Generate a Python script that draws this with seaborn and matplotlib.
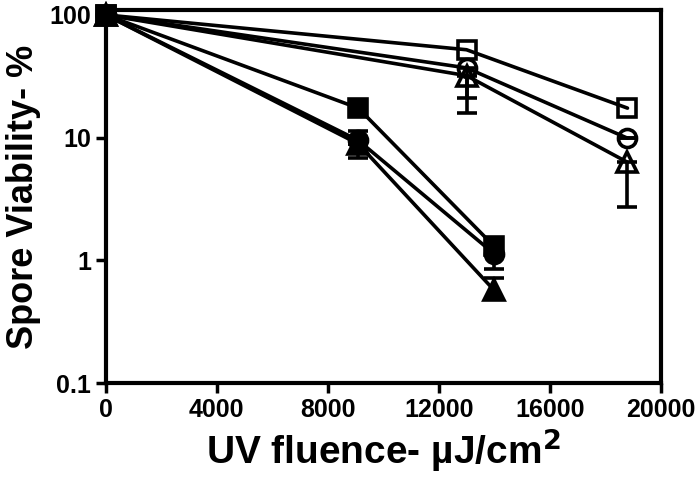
import numpy as np
import pandas as pd
import seaborn as sns
import matplotlib
matplotlib.use('Agg')
import matplotlib.pyplot as plt
from matplotlib.ticker import FixedLocator, NullLocator, FuncFormatter

# fluence values (uJ/cm2)
x_filled = [0, 9100, 14000]
x_open = [0, 13000, 18800]

# spore viability (%)
filled_square = [100, 17.4, 1.3]
filled_circle = [100, 9.5, 1.13]
filled_triangle = [100, 8.9, 0.57]
open_square = [100, 52, 17.4]
open_circle = [100, 37, 9.9]
open_triangle = [100, 32, 6.3]

# error bar ends (low, high)
filled_circle_low = [100, 6.8, 0.85]
filled_circle_high = [100, 11.3, 1.13]
filled_triangle_low = [100, 8.9, 0.49]
filled_triangle_high = [100, 8.9, 0.72]
open_circle_low = [100, 21, 9.9]
open_circle_high = [100, 37, 9.9]
open_triangle_low = [100, 15.8, 2.7]
open_triangle_high = [100, 32, 6.3]

sns.set_style('ticks')
plt.rcParams['font.family'] = ['Liberation Sans', 'DejaVu Sans']
plt.rcParams['font.weight'] = 'bold'
plt.rcParams['text.color'] = 'black'
plt.rcParams['axes.labelcolor'] = 'black'
plt.rcParams['xtick.color'] = 'black'
plt.rcParams['ytick.color'] = 'black'

fig, ax = plt.subplots(figsize=(7, 4.9), dpi=100)
fig.subplots_adjust(left=0.151, right=0.944, bottom=0.218, top=0.98)

lw = 2.6
series = [
    (x_filled, filled_square, 's', 'black'),
    (x_filled, filled_circle, 'o', 'black'),
    (x_filled, filled_triangle, '^', 'black'),
    (x_open, open_square, 's', 'none'),
    (x_open, open_circle, 'o', 'none'),
    (x_open, open_triangle, '^', 'none'),
]
for xs, ys, mk, fc in series:
    sns.lineplot(x=xs, y=ys, ax=ax, color='black', linewidth=lw, marker=mk,
                 markersize=13 if mk != '^' else 14, markerfacecolor=fc,
                 markeredgecolor='black', markeredgewidth=lw, clip_on=False,
                 zorder=3)

errs = [
    (x_filled, filled_circle, filled_circle_low, filled_circle_high),
    (x_filled, filled_triangle, filled_triangle_low, filled_triangle_high),
    (x_open, open_circle, open_circle_low, open_circle_high),
    (x_open, open_triangle, open_triangle_low, open_triangle_high),
]
for xs, ys, lo, hi in errs:
    ys = np.array(ys)
    yerr = [ys - np.array(lo), np.array(hi) - ys]
    ax.errorbar(xs[1:], ys[1:], yerr=[yerr[0][1:], yerr[1][1:]], fmt='none',
                ecolor='black', elinewidth=lw, capsize=7, capthick=lw, zorder=2)

ax.set_yscale('log')
ax.set_xlim(0, 20000)
ax.set_ylim(0.1, 110)
ax.set_xticks([0, 4000, 8000, 12000, 16000, 20000])
ax.yaxis.set_major_locator(FixedLocator([0.1, 1, 10, 100]))
ax.yaxis.set_minor_locator(NullLocator())
ax.yaxis.set_major_formatter(FuncFormatter(lambda v, p: f'{v:g}'))

for s in ax.spines.values():
    s.set_linewidth(3)
    s.set_color('black')
ax.tick_params(axis='both', width=2.5, length=7, labelsize=18, color='black',
               labelcolor='black')
for lab in ax.get_xticklabels() + ax.get_yticklabels():
    lab.set_fontweight('bold')

ax.set_xlabel('UV fluence- µJ/cm$^\\mathbf{2}$', fontsize=28, fontweight='bold', labelpad=3)
ax.set_ylabel('Spore Viability- %', fontsize=26, fontweight='bold', labelpad=6)

fig.savefig('out.png', dpi=100)
